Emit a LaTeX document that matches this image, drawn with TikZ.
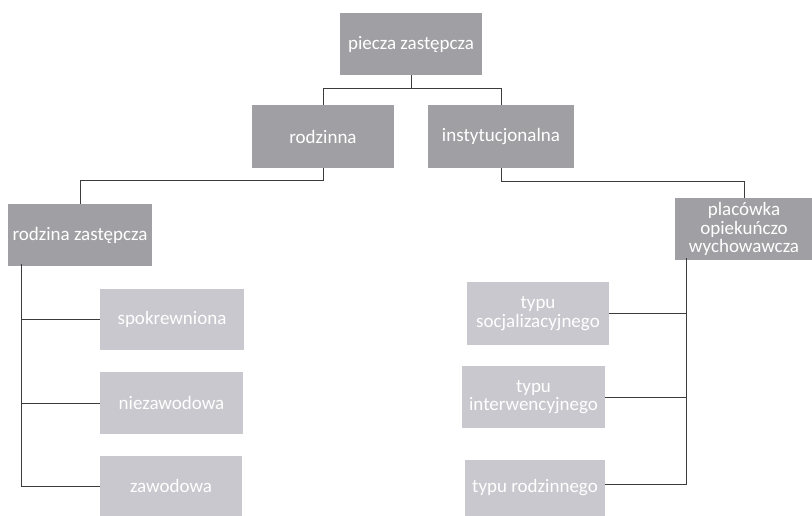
\documentclass[tikz,border=0pt]{standalone}
\usepackage{fontspec}
\setmainfont{Carlito}
\definecolor{boxdark}{RGB}{160,160,164}
\definecolor{boxlight}{RGB}{200,200,206}
\definecolor{linegray}{RGB}{60,60,60}
\begin{document}
\begin{tikzpicture}[x=1pt,y=-1pt,font=\fontsize{19}{18.5}\selectfont,
  topbox/.style={fill=boxdark,text=white,align=center,inner sep=0pt},
  subbox/.style={fill=boxlight,text=white,align=center,inner sep=0pt},
  link/.style={draw=linegray,line width=1pt}]
\useasboundingbox (0,0) rectangle (812,515);
\node[topbox,minimum width=142,minimum height=62] (pz) at (411,44) {piecza zastępcza};
\node[topbox,minimum width=142,minimum height=63] (rodz) at (323,136.5) {rodzinna};
\node[topbox,minimum width=146,minimum height=63] (inst) at (501,136.5) {instytucjonalna};
\node[topbox,minimum width=144,minimum height=62] (rz) at (80,235) {rodzina zastępcza};
\node[topbox,minimum width=139,minimum height=62] (plac) at (744,229) {placówka\\opiekuńczo\\wychowawcza};
\node[subbox,minimum width=144,minimum height=61] (spok) at (172,319.5) {spokrewniona};
\node[subbox,minimum width=143,minimum height=62] (niez) at (171.5,403) {niezawodowa};
\node[subbox,minimum width=142,minimum height=60] (zaw) at (171,486) {zawodowa};
\node[subbox,minimum width=142,minimum height=63] (soc) at (538,313.5) {typu\\socjalizacyjnego};
\node[subbox,minimum width=143,minimum height=62] (int) at (533.5,397) {typu\\interwencyjnego};
\node[subbox,minimum width=140,minimum height=56] (rodn) at (535,488) {typu rodzinnego};
% first level
\draw[link] (pz.south) -- ++(0,13) -| (rodz.north);
\draw[link] (pz.south) -- ++(0,13) -| (inst.north);
% second level
\draw[link] (rodz.south) -- ++(0,12) -| (rz.north);
\draw[link] (inst.south) -- ++(0,13) -| (plac.north);
% rodzina zastepcza
\coordinate (lbus) at ([xshift=14,yshift=2]rz.south west);
\draw[link] (lbus) |- (zaw.west);
\draw[link] (lbus) |- (spok.west);
\draw[link] (lbus) |- (niez.west);
% placowka
\coordinate (rbus) at ([xshift=12,yshift=2]plac.south west);
\draw[link] (rbus) |- ([yshift=4]rodn.east);
\draw[link] (rbus) |- (soc.east);
\draw[link] (rbus) |- (int.east);
\end{tikzpicture}
\end{document}
